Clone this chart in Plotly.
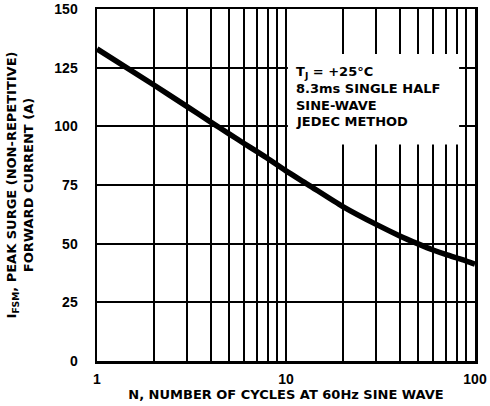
import plotly.graph_objects as go

# Data
cycles = [1, 2, 3, 4, 5, 6, 7, 8, 10, 13, 20, 30, 40, 50, 60, 70, 80, 90, 100]
surge_current = [133, 117.6, 108.4, 101.8, 96.8, 92.7, 89.3, 86.3, 81, 75.3, 65.8, 58.2, 53.3, 49.9, 47.3, 45.4, 43.9, 42.6, 41.3]

x_tickvals = [1, 2, 3, 4, 5, 6, 7, 8, 9, 10, 20, 30, 40, 50, 60, 70, 80, 90, 100]
x_ticktext = ["1", "", "", "", "", "", "", "", "", "10", "", "", "", "", "", "", "", "", "100"]
y_tickvals = [0, 25, 50, 75, 100, 125, 150]
y_ticktext = ["0", "25", "50", "75", "100", "125", "150"]

note_lines = ["T<sub>J</sub> = +25°C", "8.3ms SINGLE HALF", "SINE-WAVE", "JEDEC METHOD"]

FONT = "Liberation Sans, Arial, sans-serif"
TFONT = "DejaVu Sans, Liberation Sans, sans-serif"
W, H = 490, 406

fig = go.Figure()
fig.add_trace(go.Scatter(
    x=cycles, y=surge_current, mode="lines",
    line=dict(color="black", width=5.5, shape="spline", smoothing=0.7),
    hoverinfo="skip", showlegend=False,
))

fig.update_layout(
    width=W, height=H,
    margin=dict(l=97, r=15, t=9, b=45, autoexpand=False),
    paper_bgcolor="white", plot_bgcolor="white",
    font=dict(family=FONT, size=13, color="black"),
    showlegend=False,
)

fig.update_xaxes(
    type="log", range=[0, 2],
    tickmode="array", tickvals=x_tickvals, ticktext=x_ticktext,
    showgrid=True, gridcolor="black", gridwidth=2,
    showline=True, linecolor="black", linewidth=2.5, mirror=True,
    ticks="", ticklabelstandoff=4, ticklabeloverflow="allow",
    tickfont=dict(family=FONT, size=14, color="black", weight="bold"),
    title=dict(text="N, NUMBER OF CYCLES AT 60Hz SINE WAVE", standoff=1,
               font=dict(family=TFONT, size=13, color="black", weight="bold")),
    zeroline=False,
)
fig.update_yaxes(
    range=[0, 150],
    tickmode="array", tickvals=y_tickvals, ticktext=y_ticktext,
    showgrid=True, gridcolor="black", gridwidth=2,
    showline=True, linecolor="black", linewidth=2.5, mirror=True,
    ticks="", ticklabelstandoff=14, ticklabeloverflow="allow",
    tickfont=dict(family=FONT, size=14, color="black", weight="bold"),
    title=dict(text="I<sub>FSM</sub>, PEAK SURGE (NON-REPETITIVE)<br>FORWARD CURRENT (A)",
               standoff=18,
               font=dict(family=TFONT, size=13, color="black", weight="bold")),
    zeroline=False,
)

# white box behind the note (blanks the grid there)
fig.add_shape(type="rect", xref="x domain", yref="y domain",
              x0=0.505, x1=0.958, y0=0.615, y1=0.872,
              fillcolor="white", line=dict(width=0), layer="above")

for i, line in enumerate(note_lines):
    fig.add_annotation(
        xref="x domain", yref="paper", x=0.52, y=1 - (73 + 19 * i) / H,
        text=line, showarrow=False, xanchor="left", yanchor="middle",
        font=dict(family=TFONT, size=13, color="black", weight="bold"),
    )

fig.write_html(
    "out.html",
    config={"displayModeBar": False, "staticPlot": True},
    post_script="document.body.style.margin='0';document.body.style.overflow='hidden';",
)
